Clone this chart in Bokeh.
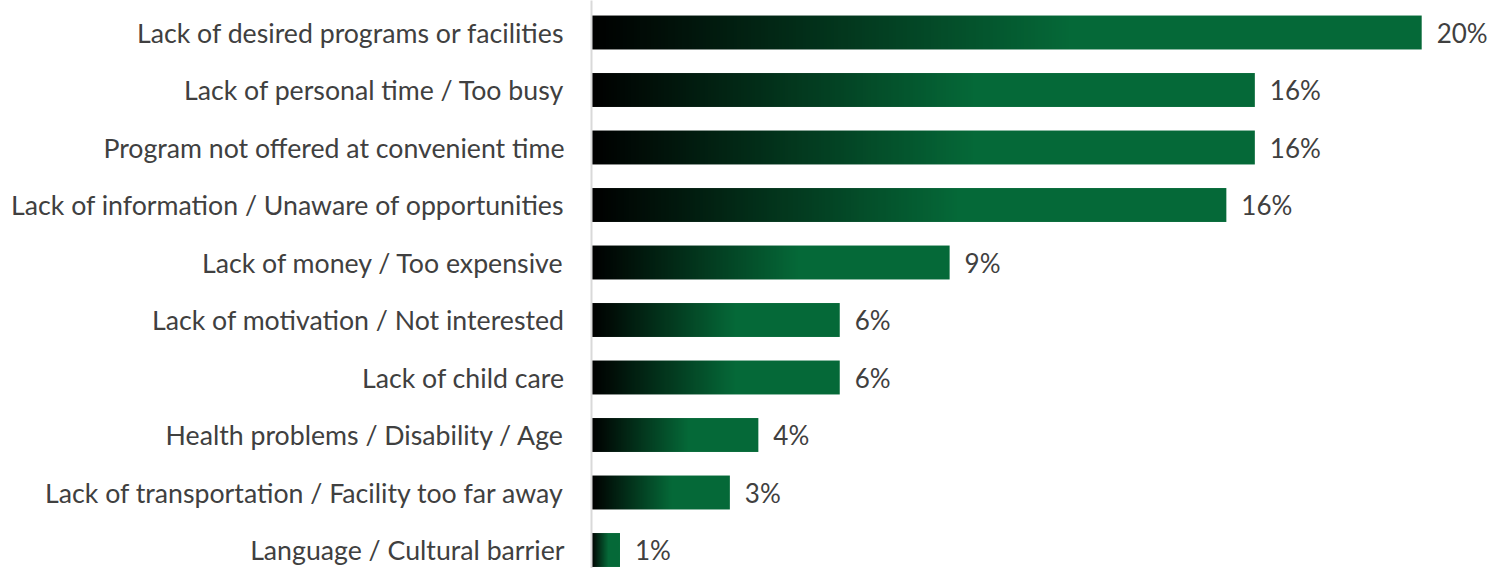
import numpy as np
from bokeh.plotting import figure
from bokeh.models import Range1d, FixedTicker, ColumnDataSource
from bokeh.core.properties import value
from bokeh.embed import file_html
from bokeh.resources import INLINE

categories = [
    "Lack of desired programs or facilities",
    "Lack of personal time / Too busy",
    "Program not offered at convenient time",
    "Lack of information / Unaware of opportunities",
    "Lack of money / Too expensive",
    "Lack of motivation / Not interested",
    "Lack of child care",
    "Health problems / Disability / Age",
    "Lack of transportation / Facility too far away",
    "Language / Cultural barrier",
]
values = [20.4, 16.3, 16.3, 15.6, 8.8, 6.1, 6.1, 4.1, 3.4, 0.7]
pct_labels = ["20%", "16%", "16%", "16%", "9%", "6%", "6%", "4%", "3%", "1%"]

n = len(categories)
ypos = [n - i for i in range(n)]  # top category highest
bar_h = 0.59

GREEN = np.array([5, 105, 56], dtype=float)
STOP = 0.58
W = 240

def gradient_image():
    t = np.linspace(0, 1, W)
    f = np.clip(t / STOP, 0, 1)
    rgb = (f[:, None] * GREEN[None, :]).round().astype(np.uint32)
    img = np.empty((1, W), dtype=np.uint32)
    view = img.view(dtype=np.uint8).reshape((1, W, 4))
    view[0, :, 0] = rgb[:, 0]
    view[0, :, 1] = rgb[:, 1]
    view[0, :, 2] = rgb[:, 2]
    view[0, :, 3] = 255
    return img

images = [gradient_image() for _ in values]

src = ColumnDataSource(dict(
    image=images,
    x=[0.0] * n,
    y=[y - bar_h / 2 for y in ypos],
    dw=values,
    dh=[bar_h] * n,
))
lbl = ColumnDataSource(dict(x=values, y=ypos, text=pct_labels))

px_per_unit = 57.5
y_end = n + 32 / px_per_unit
y_start = n - (568 - 32) / px_per_unit

p = figure(
    width=1492, height=568,
    x_range=Range1d(0, 22.14),
    y_range=Range1d(y_start, y_end),
    output_backend="svg", toolbar_location=None,
    min_border_left=591, min_border_right=0, min_border_top=0, min_border_bottom=0,
)
p.image_rgba(image="image", x="x", y="y", dw="dw", dh="dh", source=src)
p.text(x="x", y="y", text="text", source=lbl, x_offset=15,
       text_baseline="middle", text_align="left",
       text_font=value("Lato"), text_font_size="26px", text_color="#404040")

p.xaxis.visible = False
p.xgrid.visible = False
p.ygrid.visible = False
p.outline_line_color = None

ya = p.yaxis[0]
ya.ticker = FixedTicker(ticks=ypos)
ya.major_label_overrides = {y: c for y, c in zip(ypos, categories)}
ya.major_label_text_font = "Lato"
ya.major_label_text_font_size = "26.7px"
ya.major_label_text_color = "#404040"
ya.major_label_standoff = 27
ya.major_tick_out = 0
ya.major_tick_in = 0
ya.major_tick_line_color = None
ya.minor_tick_line_color = None
ya.axis_line_color = "#d9d9d9"
ya.axis_line_width = 2

open("out.html", "w").write(file_html(p, INLINE))
